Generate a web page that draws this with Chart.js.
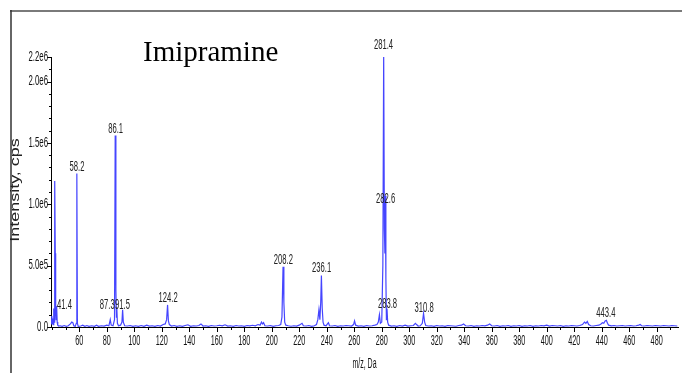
<!DOCTYPE html>
<html>
<head>
<meta charset="utf-8">
<script src="https://cdn.jsdelivr.net/npm/chart.js@4/dist/chart.umd.min.js"></script>
<style>
  html, body { margin: 0; padding: 0; background: #ffffff; }
  canvas { display: block; }
</style>
</head>
<body>
<canvas id="c" width="682" height="373"></canvas>
<script>
// ---- Data (m/z in Da, intensity in kcps) ----
const mzValues = [
  39.5, 39.8, 40.1, 40.4, 40.7, 41.0, 41.4, 41.7, 42.0, 42.2, 42.5, 42.8, 43.1, 43.5, 43.9, 44.3, 45.0,
  46, 47.5, 49, 50.5, 52, 53.5, 54.5, 55.3, 56, 57, 57.8, 58.2, 58.6, 59.2, 61, 62.5, 64, 65.5, 67, 69,
  71, 72.5, 74, 76, 78, 80, 81.5, 82.5, 83.2, 84.5, 85.6, 86.1, 86.6, 87.0, 87.3, 87.7, 88.5, 90, 91.0,
  91.5, 92.0, 93, 95, 97, 99, 101, 103, 105, 107, 109, 111, 113, 115, 117, 119, 121, 122.5, 123.5, 124.2,
  124.8, 125.5, 127, 129, 131, 133, 135, 137, 139, 141, 143, 145, 147, 148.5, 150, 152, 154, 156, 158,
  160, 162, 164, 166, 168, 170, 172, 174, 176, 178, 180, 182, 184, 186, 188, 190, 191.5, 192.5, 193.2,
  194, 195, 197, 199, 201, 203, 205, 206.5, 207.4, 208.2, 208.8, 209.4, 210.2, 212, 214, 216, 218, 220,
  222, 223, 225, 227, 229, 231, 232.5, 233.5, 234.3, 235, 235.6, 236.1, 236.7, 237.3, 238, 239.5, 240.5,
  241.2, 242, 244, 246, 248, 250, 252, 254, 256, 258, 259.5, 260.2, 261, 263, 265, 267, 269, 271, 273,
  275, 276.5, 277.5, 278.3, 279, 280, 280.8, 281.4, 281.9, 282.3, 282.6, 283.0, 283.4, 283.8, 284.3, 285,
  287, 289, 291, 293, 295, 297, 299, 301, 303, 304.5, 305.3, 306.5, 308, 309.5, 310.4, 311.2, 312, 314,
  316, 318, 320, 322, 324, 326, 328, 330, 332, 334, 336, 338, 339.5, 341, 343, 345, 347, 349, 351, 353,
  355, 357, 358.5, 360, 362, 364, 366, 368, 370, 372, 374, 376, 378, 380, 382, 384, 386, 388, 390, 392,
  394, 396, 398, 400, 402, 404, 406, 408, 410, 412, 414, 416, 418, 420, 422, 424, 426, 427.5, 428.5,
  429.5, 430.5, 432, 434, 436, 438, 439.5, 440.5, 441.5, 442.5, 443.4, 444.2, 445, 447, 449, 451, 453,
  455, 457, 459, 461, 463, 465, 467, 468, 469, 471, 473, 475, 477, 479, 481, 483, 485, 487, 489, 491,
  493, 495
];
const intensityK = [
  60, 20, 90, 30, 70, 20, 150, 40, 300, 1190, 600, 150, 60, 170, 40, 15, 8,
  10, 5, 12, 6, 10, 25, 40, 35, 10, 5, 30, 1250, 30, 5, 8, 15, 6, 12, 5, 10,
  6, 14, 5, 10, 8, 15, 10, 60, 15, 10, 60, 1560, 300, 80, 150, 30, 10, 15, 40,
  140, 40, 10, 8, 12, 5, 10, 6, 12, 5, 15, 8, 10, 6, 12, 8, 20, 25, 60, 180,
  50, 20, 8, 12, 6, 10, 5, 12, 18, 6, 10, 8, 12, 25, 8, 10, 6, 12, 8,
  10, 14, 10, 18, 8, 10, 6, 12, 8, 10, 6, 12, 10, 14, 10, 20, 15, 40, 25,
  35, 10, 8, 12, 6, 10, 12, 20, 80, 490, 200, 40, 15, 10, 6, 10, 8, 15,
  30, 10, 8, 12, 6, 10, 20, 60, 140, 60, 200, 420, 150, 40, 15, 10, 25,
  35, 10, 8, 12, 6, 10, 8, 12, 10, 8, 20, 50, 15, 8, 10, 6, 12, 8, 10,
  15, 20, 40, 100, 30, 40, 500, 2230, 800, 600, 1070, 400, 60, 150, 40, 15,
  8, 10, 6, 12, 8, 15, 8, 10, 12, 30, 20, 8, 10, 30, 110, 40, 12, 8,
  10, 6, 12, 8, 10, 6, 12, 10, 8, 6, 12, 15, 25, 10, 8, 12, 6, 10, 8, 12,
  10, 15, 25, 10, 8, 12, 6, 10, 8, 12, 6, 10, 8, 12, 6, 10, 8, 12, 6, 10,
  8, 12, 10, 15, 8, 12, 10, 8, 12, 6, 10, 8, 12, 10, 8, 12, 20, 40, 30,
  45, 20, 10, 8, 12, 15, 25, 35, 30, 50, 55, 30, 15, 10, 12, 8, 10,
  12, 8, 10, 12, 8, 10, 15, 20, 10, 8, 12, 10, 8, 12, 10, 8, 12, 10, 8, 12,
  10, 8
];

// Peak annotations: label text, m/z where the label is centred, peak-top intensity (kcps)
const peakLabels    = ["41.4", "58.2", "86.1", "87.3", "91.5", "124.2", "208.2", "236.1", "281.4", "282.6", "283.8", "310.8", "443.4"];
const peakLabelMz   = [49.2, 58.3, 86.4, 80.3, 91.4, 124.6, 208.4, 236.3, 281.3, 282.8, 284.2, 310.8, 443.0];
const peakLabelTopK = [125, 1250, 1560, 125, 125, 180, 490, 420, 2240, 990, 133, 100, 60];

// Axis ticks
const xMajorTicks = [60, 80, 100, 120, 140, 160, 180, 200, 220, 240, 260, 280, 300, 320, 340, 360, 380, 400, 420, 440, 460, 480];
const xMinorTicks = [40, 50, 70, 90, 110, 130, 150, 170, 190, 210, 230, 250, 270, 290, 310, 330, 350, 370, 390, 410, 430, 450, 470, 490];
const yMajorTicks = [0, 500000, 1000000, 1500000, 2000000, 2200000];
const yMajorLabels = ["0.0", "5.0e5", "1.0e6", "1.5e6", "2.0e6", "2.2e6"];

const chartTitle = "Imipramine";
const xTitle = "m/z, Da";
const yTitle = "Intensity, cps";

const points = mzValues.map((m, i) => ({ x: m, y: intensityK[i] * 1000 }));

function squeezedText(ctx, text, x, y, font, sx, sy, align, baseline, color) {
  ctx.save();
  ctx.translate(x, y);
  ctx.scale(sx, sy);
  ctx.font = font;
  ctx.fillStyle = color;
  ctx.textAlign = align;
  ctx.textBaseline = baseline;
  ctx.fillText(text, 0, 0);
  ctx.restore();
}

const decorations = {
  id: 'decorations',
  afterDraw(chart) {
    const ctx = chart.ctx;
    const xs = chart.scales.x, ys = chart.scales.y;
    const area = chart.chartArea;
    ctx.save();
    // outer frame (top and left edges)
    ctx.strokeStyle = '#7a7a7a';
    ctx.lineWidth = 2;
    ctx.beginPath(); ctx.moveTo(10, 11); ctx.lineTo(682, 11); ctx.stroke();
    ctx.strokeStyle = '#333333';
    ctx.lineWidth = 1.5;
    ctx.beginPath(); ctx.moveTo(11, 10); ctx.lineTo(11, 373); ctx.stroke();

    // tick marks
    ctx.strokeStyle = '#000';
    ctx.lineWidth = 1;
    ctx.beginPath();
    xMajorTicks.forEach(v => { const p = Math.round(xs.getPixelForValue(v)) + 0.5; ctx.moveTo(p, area.bottom); ctx.lineTo(p, area.bottom + 5); });
    xMinorTicks.forEach(v => { if (v < xs.min || v > xs.max) return; const p = Math.round(xs.getPixelForValue(v)) + 0.5; ctx.moveTo(p, area.bottom); ctx.lineTo(p, area.bottom + 3); });
    for (let v = 0; v <= 2200000; v += 100000) {
      const p = Math.round(ys.getPixelForValue(v)) + 0.5;
      const major = yMajorTicks.includes(v);
      ctx.moveTo(area.left, p); ctx.lineTo(area.left - (major ? 4 : 2), p);
    }
    ctx.stroke();

    // tick labels
    const tickFont = '14px "Liberation Sans", Arial, sans-serif';
    xMajorTicks.forEach(v => {
      squeezedText(ctx, String(v), xs.getPixelForValue(v), area.bottom + 7, tickFont, 0.52, 1, 'center', 'top', '#111');
    });
    yMajorTicks.forEach((v, i) => {
      squeezedText(ctx, yMajorLabels[i], area.left - 3, ys.getPixelForValue(v), tickFont, 0.56, 1, 'right', 'middle', '#111');
    });

    // axis titles
    squeezedText(ctx, xTitle, (area.left + area.right) / 2, 364, tickFont, 0.5, 1, 'center', 'middle', '#111');
    ctx.save();
    ctx.translate(16, 190);
    ctx.rotate(-Math.PI / 2);
    ctx.scale(1.5, 1);
    ctx.font = '12px "Liberation Sans", Arial, sans-serif';
    ctx.fillStyle = '#222';
    ctx.textAlign = 'center';
    ctx.textBaseline = 'middle';
    ctx.fillText(yTitle, 0, 0);
    ctx.restore();

    // chart title
    ctx.font = '29px "Liberation Serif", "Times New Roman", serif';
    ctx.fillStyle = '#000';
    ctx.textAlign = 'left';
    ctx.textBaseline = 'alphabetic';
    ctx.fillText(chartTitle, 143, 61);

    // peak labels
    const labelFont = '15px "Liberation Sans", Arial, sans-serif';
    peakLabels.forEach((t, i) => {
      const px = xs.getPixelForValue(peakLabelMz[i]);
      const py = ys.getPixelForValue(peakLabelTopK[i] * 1000) - 3;
      squeezedText(ctx, t, px, py, labelFont, 0.51, 1, 'center', 'alphabetic', '#222');
    });
    ctx.restore();
  }
};

new Chart(document.getElementById('c'), {
  type: 'line',
  data: {
    datasets: [{
      data: points,
      borderColor: '#4545ff',
      borderWidth: 1.2,
      pointRadius: 0,
      tension: 0,
      fill: false
    }]
  },
  options: {
    responsive: false,
    animation: false,
    devicePixelRatio: 1,
    layout: { padding: { left: 51, right: 4, top: 57, bottom: 46 } },
    plugins: { legend: { display: false }, tooltip: { enabled: false }, title: { display: false } },
    scales: {
      x: {
        type: 'linear', min: 39.4, max: 495.5,
        ticks: { display: false },
        grid: { display: false, drawTicks: false },
        border: { display: true, color: '#000', width: 1 }
      },
      y: {
        type: 'linear', min: 0, max: 2200000,
        ticks: { display: false },
        grid: { display: false, drawTicks: false },
        border: { display: true, color: '#000', width: 1 }
      }
    }
  },
  plugins: [decorations]
});
</script>
</body>
</html>
